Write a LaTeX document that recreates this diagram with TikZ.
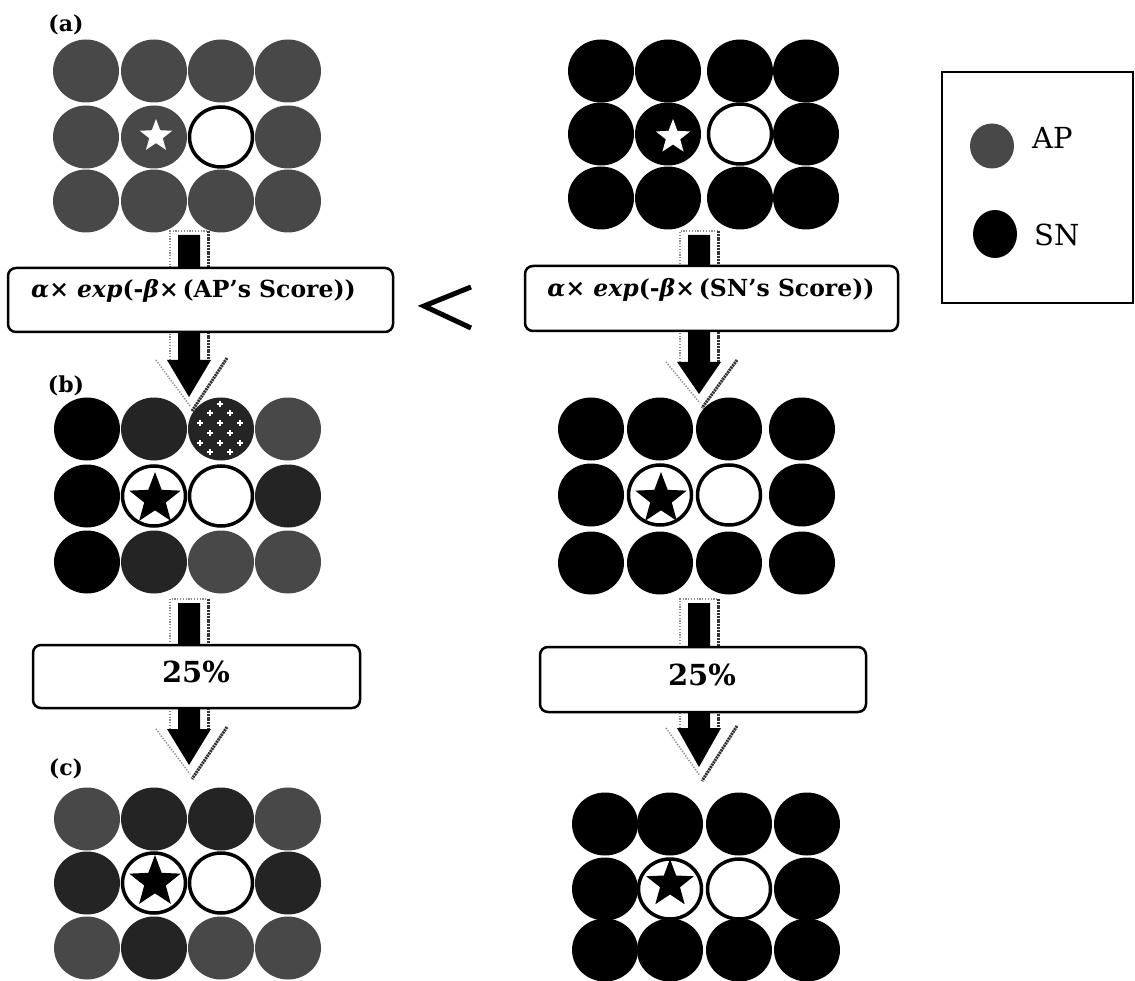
\documentclass[tikz,border=0pt]{standalone}
\usepackage{fontspec}
\setmainfont{DejaVu Serif}
\definecolor{apc}{HTML}{484848}
\definecolor{spc}{HTML}{242424}
\newcommand\disc[3]{\fill[#3] (#1,#2) ellipse [x radius=33pt, y radius=31.5pt];}
\newcommand\hole[2]{\draw[emptyc] (#1,#2) ellipse [x radius=31.5pt, y radius=30pt];}
\newcommand\mystar[4]{\fill[#4] (#1,#2) +(-90:#3) -- +(-54:0.42*#3) -- +(-18:#3) -- +(18:0.42*#3) -- +(54:#3) -- +(90:0.42*#3) -- +(126:#3) -- +(162:0.42*#3) -- +(198:#3) -- +(234:0.42*#3) -- cycle;}
\newcommand\fancyarrow[4]{%
 \draw[shadowl] (#1-19,#3) -- (#1-19,#2-4) -- (#1+19,#2-4);
 \draw[shadowl] (#1-33,#3) -- (#1+1,#4+9);
 \draw[shadowr] (#1+19,#2-4) -- (#1+19,#3);
 \draw[shadowr] (#1+38,#3-2) -- (#1+3,#4+14);
 \fill[black] (#1-11,#2) -- (#1+11,#2) -- (#1+11,#3) -- (#1+22,#3) -- (#1,#4) -- (#1-22,#3) -- (#1-11,#3) -- cycle;}
\newcommand\sparkle[2]{\draw[white, line width=1.3pt] (#1-2.6,#2) -- (#1+2.6,#2) (#1,#2-2.6) -- (#1,#2+2.6);}
\begin{document}
\begin{tikzpicture}[x=1pt,y=-1pt,
  emptyc/.style={draw=black, line width=3.5pt, fill=white},
  shadowl/.style={draw=black!45, line width=1.6pt, dash pattern=on 1.2pt off 1.6pt},
  shadowr/.style={draw=black!80, line width=3pt, dash pattern=on 2pt off 0.8pt},
  fbox/.style={draw=black, line width=2.5pt, rounded corners=8pt, fill=white, inner sep=0pt},
  ftext/.style={anchor=base, inner sep=0pt, font=\fontsize{23.5}{26}\selectfont\bfseries},
  ptext/.style={anchor=base, inner sep=0pt, font=\fontsize{29}{32}\selectfont\bfseries},
  lab/.style={inner sep=0pt, font=\fontsize{22}{24}\selectfont\bfseries},
  legtext/.style={anchor=base west, inner sep=0pt, font=\fontsize{29}{32}\selectfont}]
\useasboundingbox (0,0) rectangle (1135,981);
\fill[white] (0,0) rectangle (1135,981);

% ---------- labels
\node[lab] (la) at (66,25) {(a)};
\node[lab] (lb) at (66,386) {(b)};
\node[lab] (lc) at (66,769) {(c)};

% ---------- grid (a) left
\foreach \x in {86,154,221,288} {\disc{\x}{71}{apc}}
\disc{86}{137}{apc}\disc{154}{137}{apc}\hole{221}{137}\disc{288}{137}{apc}
\foreach \x in {86,154,221,288} {\disc{\x}{201}{apc}}
\mystar{156}{136}{17}{white}

% ---------- grid (a) right
\foreach \x in {601,668,740,806} {\disc{\x}{71}{black}}
\disc{601}{134}{black}\disc{668}{134}{black}\hole{740}{134}\disc{806}{134}{black}
\foreach \x in {601,668,740,806} {\disc{\x}{198}{black}}
\mystar{673}{137}{18}{white}

% ---------- grid (b) left
\disc{87}{429}{black}\disc{154}{429}{spc}\disc{221}{429}{spc}\disc{288}{429}{apc}
\foreach \sx/\sy in {210/413,230/413,200/423,220/423,240/423,210/433,230/433,200/443,220/443,240/443,210/452,230/452,220/404} {\sparkle{\sx}{\sy}}
\disc{87}{496}{black}\hole{154}{496}\hole{221}{496}\disc{288}{496}{spc}
\disc{87}{562}{black}\disc{154}{562}{spc}\disc{221}{562}{apc}\disc{288}{562}{apc}
\mystar{155}{499}{27}{black}

% ---------- grid (b) right
\foreach \x in {591,660,729,802} {\disc{\x}{429}{black}}
\disc{591}{495}{black}\hole{660}{495}\hole{729}{495}\disc{802}{495}{black}
\foreach \x in {591,660,729,802} {\disc{\x}{563}{black}}
\mystar{661}{499}{27}{black}

% ---------- grid (c) left
\disc{87}{819}{apc}\disc{154}{819}{spc}\disc{221}{819}{spc}\disc{288}{819}{apc}
\disc{87}{883}{spc}\hole{154}{883}\hole{221}{883}\disc{288}{883}{spc}
\disc{87}{948}{apc}\disc{154}{948}{spc}\disc{221}{948}{apc}\disc{288}{948}{apc}
\mystar{155}{882}{27}{black}

% ---------- grid (c) right
\foreach \x in {605,670,739,807} {\disc{\x}{824}{black}}
\disc{605}{889}{black}\hole{670}{889}\hole{739}{889}\disc{807}{889}{black}
\foreach \x in {605,670,739,807} {\disc{\x}{950}{black}}
\mystar{670}{884}{25}{black}

% ---------- arrows
\fancyarrow{189}{235}{360}{397}
\fancyarrow{189}{603}{729}{765}
\fancyarrow{699}{235}{362}{394}
\fancyarrow{699}{603}{728}{767}

% ---------- boxes
\node[fbox, minimum width=385pt, minimum height=64pt] (f1) at (200.5,300) {};
\node[ftext] (t1) at (193.5,298) {{\itshape α}× {\itshape exp}(-{\itshape β}×\,(AP’s Score))};
\node[fbox, minimum width=373pt, minimum height=65pt] (f2) at (711.5,298.5) {};
\node[ftext] (t2) at (711,297) {{\itshape α}× {\itshape exp}(-{\itshape β}×\,(SN’s Score))};
\node[fbox, minimum width=327pt, minimum height=63pt] (f3) at (196.5,676.5) {};
\node[ptext] (t3) at (196,682) {25\%};
\node[fbox, minimum width=326pt, minimum height=65pt] (f4) at (703,679.5) {};
\node[ptext] (t4) at (702,685) {25\%};

% ---------- less-than sign
\coordinate (lt1) at (471,287);
\coordinate (lt2) at (424,306);
\coordinate (lt3) at (471,328);
\draw[line width=5pt, line join=miter] (lt1) -- (lt2) -- (lt3);

% ---------- legend
\node[draw=black, line width=2pt, minimum width=191pt, minimum height=231pt, inner sep=0pt] (leg) at (1037.5,187.5) {};
\fill[apc] (992,146) ellipse [x radius=22pt, y radius=22.5pt];
\fill[black] (995,234) ellipse [x radius=22pt, y radius=24pt];
\node[legtext] (lap) at (1032,149) {AP};
\node[legtext] (lsn) at (1034,246) {SN};
\end{tikzpicture}
\end{document}
